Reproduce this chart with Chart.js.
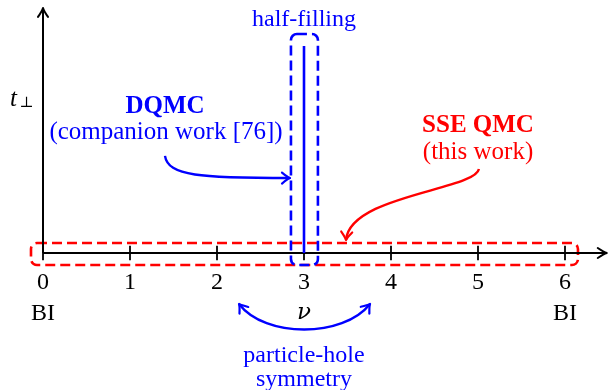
<!DOCTYPE html>
<html><head><meta charset="utf-8">
<script src="https://cdn.jsdelivr.net/npm/chart.js@4/dist/chart.umd.min.js"></script>
<style>html,body{margin:0;padding:0;background:#fff}#wrap{width:608px;height:390px}</style>
</head><body><div id="wrap"><canvas id="c" width="608" height="390"></canvas></div>
<script>
// ---- data (filling nu on x, interlayer hopping t_perp on y, schematic units) ----
const nuTicks = [0, 1, 2, 3, 4, 5, 6];
const tickLabels = ['0', '1', '2', '3', '4', '5', '6'];
const endNu = [0, 6];
const endLabels = ['BI', 'BI'];
const halfFillingNu = 3;
const halfFillingT = [0, 1];
const sseRegionNu = [-0.138, 6.149];
const sseRegionT = [-0.058, 0.048];
const dqmcRegionNu = [2.85, 3.16];
const dqmcRegionT = [-0.058, 1.058];

const BLUE = '#0000ff', RED = '#ff0000', BLACK = '#000000';
const SERIF = "'Liberation Serif', 'DejaVu Serif', serif";

function head(ctx, x, y, ang, color, L, W, lw) {
  L = L || 9; W = W || 5.5;
  ctx.save(); ctx.translate(x, y); ctx.rotate(ang);
  ctx.beginPath();
  ctx.moveTo(-L, -W); ctx.quadraticCurveTo(-L * 0.3, -W * 0.15, 0, 0);
  ctx.quadraticCurveTo(-L * 0.3, W * 0.15, -L, W);
  ctx.strokeStyle = color; ctx.lineWidth = lw || 2.2; ctx.lineCap = 'round'; ctx.lineJoin = 'round';
  ctx.stroke(); ctx.restore();
}

const drawPlugin = {
  id: 'schematic',
  beforeDatasetsDraw(chart) {
    const ctx = chart.ctx, xs = chart.scales.x, ys = chart.scales.y;
    const X = v => xs.getPixelForValue(v), Y = t => ys.getPixelForValue(t);
    ctx.save();
    // dashed regions
    function box(nu, t, color) {
      ctx.beginPath();
      ctx.roundRect(X(nu[0]), Y(t[1]), X(nu[1]) - X(nu[0]), Y(t[0]) - Y(t[1]), 6);
      ctx.setLineDash([10, 5]); ctx.lineWidth = 2.6; ctx.strokeStyle = color; ctx.stroke();
      ctx.setLineDash([]);
    }
    box(sseRegionNu, sseRegionT, RED);
    box(dqmcRegionNu, dqmcRegionT, BLUE);
    // axes
    ctx.strokeStyle = BLACK; ctx.lineWidth = 2; ctx.lineCap = 'butt';
    ctx.beginPath(); ctx.moveTo(X(0), Y(0)); ctx.lineTo(X(6.48), Y(0)); ctx.stroke();
    ctx.beginPath(); ctx.moveTo(X(0), Y(0)); ctx.lineTo(X(0), Y(1.184)); ctx.stroke();
    head(ctx, X(6.48), Y(0), 0, BLACK, 9, 5, 2);
    head(ctx, X(0), Y(1.184), -Math.PI / 2, BLACK, 9, 5, 2);
    // ticks
    ctx.lineWidth = 1.8;
    nuTicks.forEach(v => {
      ctx.beginPath(); ctx.moveTo(X(v), Y(0.035)); ctx.lineTo(X(v), Y(-0.035)); ctx.stroke();
    });
    ctx.restore();
  },
  afterDatasetsDraw(chart) {
    const ctx = chart.ctx, xs = chart.scales.x, ys = chart.scales.y;
    const X = v => xs.getPixelForValue(v), Y = t => ys.getPixelForValue(t);
    ctx.save();
    ctx.textAlign = 'center'; ctx.textBaseline = 'alphabetic';
    function txt(s, v, t, color, font) {
      ctx.font = font; ctx.fillStyle = color; ctx.fillText(s, X(v), Y(t));
    }
    // tick labels and end labels
    nuTicks.forEach((v, i) => txt(tickLabels[i], v, -0.174, BLACK, '24px ' + SERIF));
    endNu.forEach((v, i) => txt(endLabels[i], v, -0.324, BLACK, '24px ' + SERIF));
    txt('ν', 3, -0.319, BLACK, "italic 23px 'DejaVu Serif', serif");
    // y axis label
    ctx.textAlign = 'left';
    txt('t', -0.378, 0.710, BLACK, 'italic 25px ' + SERIF);
    txt('⊥', -0.272, 0.705, BLACK, '15px ' + SERIF);
    ctx.textAlign = 'center';
    // annotations
    txt('half-filling', halfFillingNu, 1.097, BLUE, '24px ' + SERIF);
    txt('DQMC', 1.402, 0.676, BLUE, 'bold 25px ' + SERIF);
    txt('(companion work [76])', 1.414, 0.551, BLUE, '25px ' + SERIF);
    txt('SSE QMC', 5.0, 0.585, RED, 'bold 25px ' + SERIF);
    txt('(this work)', 5.0, 0.454, RED, '25px ' + SERIF);
    txt('particle-hole', 3, -0.527, BLUE, '24px ' + SERIF);
    txt('symmetry', 3, -0.643, BLUE, '24px ' + SERIF);
    // arrows
    function curve(p, color, startHead) {
      const q = p.map(a => [X(a[0]), Y(a[1])]);
      ctx.beginPath(); ctx.moveTo(q[0][0], q[0][1]);
      ctx.bezierCurveTo(q[1][0], q[1][1], q[2][0], q[2][1], q[3][0], q[3][1]);
      ctx.strokeStyle = color; ctx.lineWidth = 2.4; ctx.lineCap = 'butt'; ctx.stroke();
      head(ctx, q[3][0], q[3][1], Math.atan2(q[3][1] - q[2][1], q[3][0] - q[2][0]), color, 8, 5.5, 2.2);
      if (startHead) head(ctx, q[0][0], q[0][1], Math.atan2(q[0][1] - q[1][1], q[0][0] - q[1][0]), color, 8, 5.5, 2.2);
    }
    curve([[1.402, 0.469], [1.437, 0.372], [1.805, 0.362], [2.839, 0.362]], BLUE, false);
    curve([[5.011, 0.406], [4.966, 0.304], [3.529, 0.280], [3.483, 0.063]], RED, false);
    curve([[2.253, -0.246], [2.552, -0.411], [3.448, -0.411], [3.759, -0.246]], BLUE, true);
    ctx.restore();
  }
};

new Chart(document.getElementById('c'), {
  type: 'scatter',
  data: {
    datasets: [{
      label: 'half-filling',
      data: halfFillingT.map(t => ({ x: halfFillingNu, y: t })),
      showLine: true, borderColor: BLUE, borderWidth: 2.6, pointRadius: 0
    }]
  },
  options: {
    responsive: false, animation: false,
    layout: { padding: 0 },
    plugins: { legend: { display: false }, tooltip: { enabled: false } },
    scales: {
      x: { type: 'linear', display: false, min: -43 / 87, max: (608 - 43) / 87 },
      y: { type: 'linear', display: false, min: -(390 - 253) / 207, max: 253 / 207 }
    }
  },
  plugins: [drawPlugin]
});
</script></body></html>
